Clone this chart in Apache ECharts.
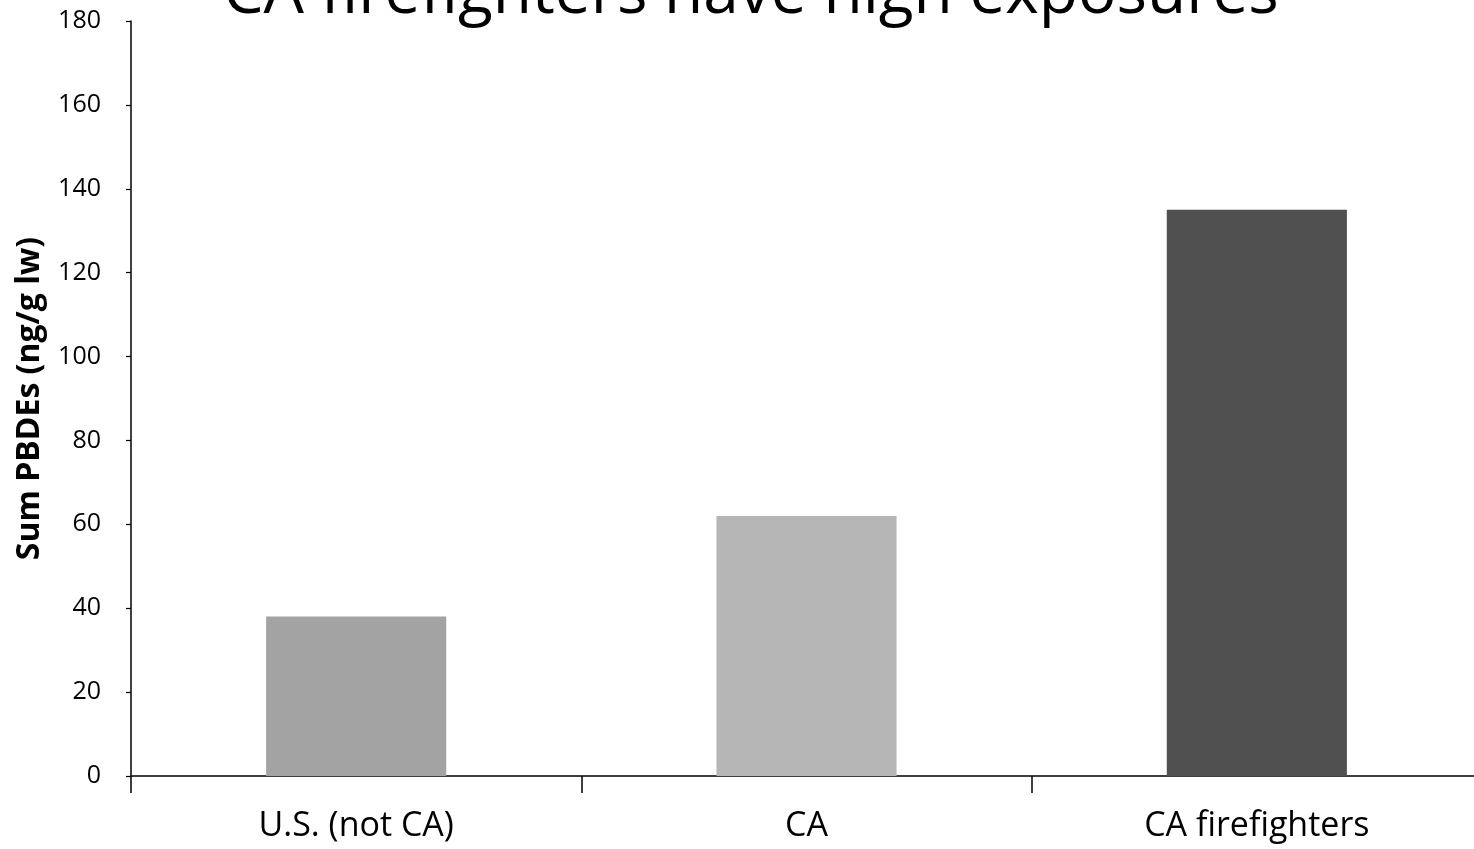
<!DOCTYPE html>
<html>
<head>
<meta charset="utf-8">
<script src="https://cdn.jsdelivr.net/npm/echarts@6/dist/echarts.min.js"></script>
<style>
  html, body { margin: 0; padding: 0; background: #fff; }
  #chart { width: 1474px; height: 849px; }
</style>
</head>
<body>
<div id="chart"></div>
<script>
// data
const categories = ['U.S. (not CA)', 'CA', 'CA firefighters'];
const pbdeValues = [38, 62, 135];
const barColors = ['#a3a3a3', '#b6b6b6', '#505050'];
const yTicks = { min: 0, max: 180, interval: 20 };

const chart = echarts.init(document.getElementById('chart'));
const FONT = '"Open Sans", "Liberation Sans", sans-serif';

const option = {
  backgroundColor: '#fff',
  animation: false,
  title: {
    text: 'CA firefighters have high exposures',
    left: 746,
    textAlign: 'center',
    top: -42,
    textStyle: {
      fontFamily: FONT,
      fontSize: 64,
      fontWeight: 'normal',
      color: '#000'
    }
  },
  // the axis runs a little past the right edge in the original
  grid: { left: 131, right: -8, top: 21, bottom: 73, outerBoundsMode: 'none', containLabel: false },
  xAxis: {
    type: 'category',
    data: categories,
    boundaryGap: true,
    axisLine: { lineStyle: { color: '#000', width: 1.5 } },
    axisTick: { show: true, length: 17, lineStyle: { color: '#000', width: 1.5 } },
    axisLabel: { color: '#000', fontFamily: FONT, fontSize: 34, margin: 33 }
  },
  yAxis: {
    type: 'value',
    min: yTicks.min,
    max: yTicks.max,
    interval: yTicks.interval,
    name: 'Sum PBDEs (ng/g lw)',
    nameLocation: 'middle',
    nameGap: 85,
    nameTextStyle: { color: '#000', fontFamily: FONT, fontSize: 32, fontWeight: 'bold' },
    splitLine: { show: false },
    axisLine: { show: true, lineStyle: { color: '#000', width: 1.5 } },
    axisTick: { show: true, length: 5, lineStyle: { color: '#000', width: 1.2 } },
    axisLabel: { color: '#000', fontFamily: FONT, fontSize: 25, margin: 30 }
  },
  series: [{
    type: 'bar',
    barWidth: '40%',
    data: pbdeValues.map((v, i) => ({ value: v, itemStyle: { color: barColors[i] } }))
  }]
};
chart.setOption(option);
</script>
</body>
</html>
